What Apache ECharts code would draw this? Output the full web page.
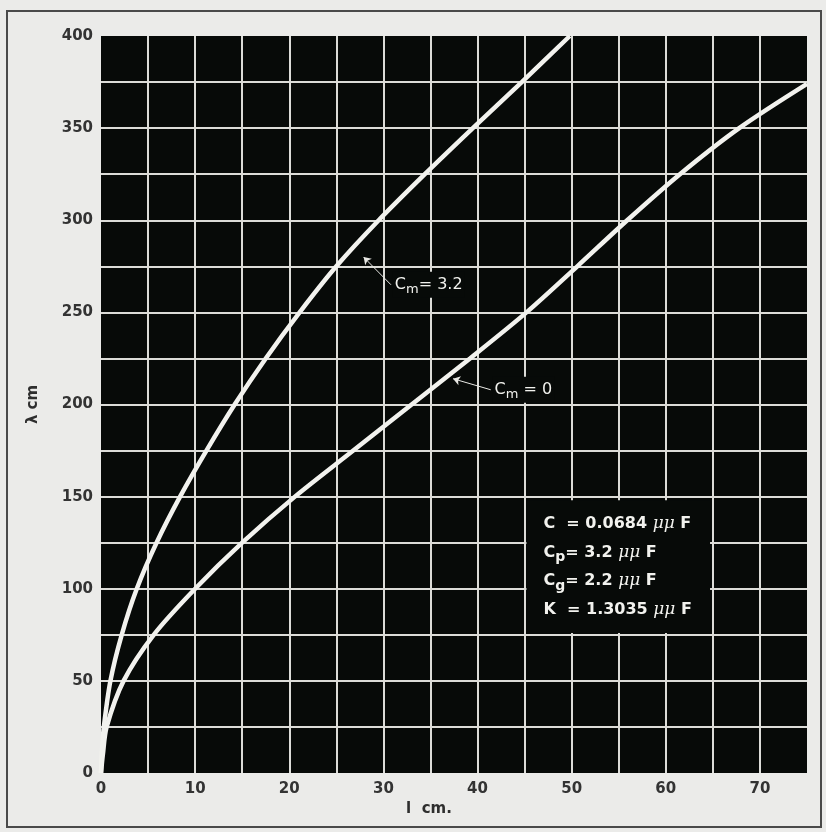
<html>
<head>
<meta charset="utf-8">
<title>λ vs l</title>
<script src="https://cdn.jsdelivr.net/npm/echarts@6/dist/echarts.min.js"></script>
<style>
  html, body { margin: 0; padding: 0; background: #ebebe9; }
  #main { width: 826px; height: 832px; }
</style>
</head>
<body>
<div id="main"></div>
<script type="text/javascript">
// curve C_m = 3.2
var upperX = [0, 0.1, 0.3, 1.0, 2.2, 3.8, 5.9, 8.4, 11.2, 14.2, 17.5, 21.1, 25.0, 29.5, 34.4, 39.5, 44.7, 49.8];
var upperY = [0, 12, 25, 50, 75, 100, 125, 150, 175, 200, 225, 250, 275, 300, 325, 350, 375, 400];
// curve C_m = 0
var lowerX = [0, 0.2, 0.6, 2.4, 5.6, 10.0, 15.0, 20.6, 26.8, 33.0, 39.2, 45.2, 50.6, 55.9, 61.5, 67.8, 75.0];
var lowerY = [0, 10, 25, 50, 75, 100, 125, 150, 175, 200, 225, 250, 275, 300, 325, 350, 374];

var xMin = 0, xMax = 75, xStep = 5, xLabelStep = 10;
var yMin = 0, yMax = 400, yStep = 25, yLabelStep = 50;

var paramLines = [
    '{b|C  = 0.0684 }{mu|μμ}{b| F}',
    '{b|C}{sub|p}{b|= 3.2 }{mu|μμ}{b| F}',
    '{b|C}{sub|g}{b|= 2.2 }{mu|μμ}{b| F}',
    '{b|K  = 1.3035 }{mu|μμ}{b| F}'
];

function pairs(xs, ys) {
    var out = [];
    for (var i = 0; i < xs.length; i++) out.push([xs[i], ys[i]]);
    return out;
}

var white = '#f2f2ee';
var labelRich = {
    b:   { color: white, fontSize: 16, fontWeight: 'bold', fontFamily: 'DejaVu Sans', lineHeight: 28.5 },
    mu:  { color: white, fontSize: 17, fontStyle: 'italic', fontFamily: 'DejaVu Serif', lineHeight: 28.5 },
    sub: { color: white, fontSize: 14, fontWeight: 'bold', fontFamily: 'DejaVu Sans', lineHeight: 28.5, padding: [10, 0, 0, 0] },
    c:   { color: white, fontSize: 16, fontFamily: 'DejaVu Sans', lineHeight: 24 },
    cs:  { color: white, fontSize: 13, fontFamily: 'DejaVu Sans', lineHeight: 24, padding: [9, 0, 0, 0] }
};

var myChart = echarts.init(document.getElementById('main'));

var option = {
    animation: false,
    backgroundColor: '#ebebe9',
    graphic: [{
        type: 'rect',
        shape: { x: 7, y: 11, width: 814, height: 816 },
        style: { fill: 'none', stroke: '#4a4a4a', lineWidth: 2 },
        silent: true
    }],
    grid: {
        left: 101, top: 36, width: 706, height: 737,
        show: true, backgroundColor: '#070a08', borderWidth: 0
    },
    xAxis: {
        type: 'value',
        min: xMin, max: xMax, interval: xStep,
        name: 'l  cm.',
        nameLocation: 'middle',
        nameGap: 29,
        nameTextStyle: { color: '#2e2e2e', fontSize: 15, fontWeight: 'bold', fontFamily: 'DejaVu Sans', padding: [0, 50, 0, 0] },
        axisLine: { show: false },
        axisTick: { show: false },
        axisLabel: {
            color: '#333', fontSize: 15, fontWeight: 'bold', fontFamily: 'DejaVu Sans', margin: 9,
            formatter: function (v) { return v % xLabelStep === 0 ? String(v) : ''; }
        },
        splitLine: { show: true, showMinLine: false, showMaxLine: false, lineStyle: { color: '#dcdcd8', width: 2 } }
    },
    yAxis: {
        type: 'value',
        min: yMin, max: yMax, interval: yStep,
        name: 'λ cm',
        nameLocation: 'middle',
        nameGap: 60,
        nameRotate: 90,
        nameTextStyle: { color: '#2e2e2e', fontSize: 15, fontWeight: 'bold', fontFamily: 'DejaVu Sans' },
        axisLine: { show: false },
        axisTick: { show: false },
        axisLabel: {
            color: '#333', fontSize: 15, fontWeight: 'bold', fontFamily: 'DejaVu Sans', margin: 8,
            formatter: function (v) { return v % yLabelStep === 0 ? String(v) : ''; }
        },
        splitLine: { show: true, showMinLine: false, showMaxLine: false, lineStyle: { color: '#dcdcd8', width: 2 } }
    },
    series: [
        {
            name: 'Cm = 3.2',
            type: 'line',
            data: pairs(upperX, upperY),
            smooth: 0.3,
            showSymbol: false,
            lineStyle: { color: white, width: 4.5 },
            z: 5,
            markArea: {
                silent: true,
                itemStyle: { color: '#070a08' },
                label: {
                    show: true, position: 'insideLeft', distance: 17,
                    formatter: paramLines.join('\n'),
                    rich: labelRich
                },
                data: [[{ xAxis: 45.2, yAxis: 76 }, { xAxis: 64.7, yAxis: 148 }]]
            },
            markPoint: {
                symbol: 'rect', symbolSize: [72, 26],
                itemStyle: { color: '#070a08' },
                symbolOffset: [36, 0],
                label: {
                    show: true, position: 'insideLeft', distance: 2,
                    formatter: '{c|C}{cs|m}{c|= 3.2}', rich: labelRich
                },
                data: [{ coord: [31.0, 265] }]
            },
            markLine: {
                silent: true,
                symbol: ['none', 'arrow'], symbolSize: 7,
                lineStyle: { color: '#e8e8e4', width: 1, type: 'solid', curveness: -0.25 },
                label: { show: false },
                data: [[{ coord: [30.8, 265] }, { coord: [27.9, 280] }]]
            }
        },
        {
            name: 'Cm = 0',
            type: 'line',
            data: pairs(lowerX, lowerY),
            smooth: 0.3,
            showSymbol: false,
            lineStyle: { color: white, width: 4.5 },
            z: 5,
            markPoint: {
                symbol: 'rect', symbolSize: [62, 26],
                itemStyle: { color: '#070a08' },
                symbolOffset: [31, 0],
                label: {
                    show: true, position: 'insideLeft', distance: 2,
                    formatter: '{c|C}{cs|m}{c| = 0}', rich: labelRich
                },
                data: [{ coord: [41.6, 208] }]
            },
            markLine: {
                silent: true,
                symbol: ['none', 'arrow'], symbolSize: 7,
                lineStyle: { color: '#e8e8e4', width: 1, type: 'solid', curveness: -0.15 },
                label: { show: false },
                data: [[{ coord: [41.4, 208] }, { coord: [37.4, 214] }]]
            }
        }
    ]
};

myChart.setOption(option);
</script>
</body>
</html>
